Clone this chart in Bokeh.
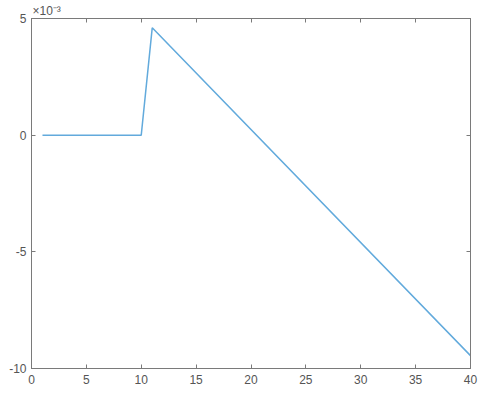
from bokeh.plotting import figure
from bokeh.models import LinearAxis, FixedTicker, Range1d
from bokeh.embed import file_html
from bokeh.resources import INLINE

x_vals = [1, 10, 11, 40]
y_vals = [0.0, 0.0, 4.6e-3, -9.45e-3]
x_ticks = [0, 5, 10, 15, 20, 25, 30, 35, 40]
y_ticks = [-0.01, -0.005, 0.0, 0.005]
y_tick_labels = {-0.01: "-10", -0.005: "-5", 0.0: "0", 0.005: "5"}

FONT = "Liberation Sans"
AX = "#7a7a7a"
TXT = "#555555"

p = figure(width=485, height=396, output_backend="svg", toolbar_location=None,
           x_range=Range1d(0, 40), y_range=Range1d(-0.01, 0.005),
           min_border_left=31, min_border_right=15, min_border_top=4, min_border_bottom=28)
p.xgrid.visible = False
p.ygrid.visible = False
p.outline_line_color = AX
p.outline_line_width = 1
p.background_fill_color = "white"
p.border_fill_color = "white"

p.line(x_vals, y_vals, line_color="#62aadc", line_width=1.5)

def style(ax):
    ax.axis_line_color = AX
    ax.major_tick_line_color = AX
    ax.major_tick_in = 4
    ax.major_tick_out = 0
    ax.minor_tick_line_color = None
    ax.major_label_text_font = FONT
    ax.major_label_text_color = TXT
    ax.major_label_text_font_size = "12px"
    ax.major_label_standoff = 5

p.xaxis.ticker = FixedTicker(ticks=x_ticks)
p.yaxis.ticker = FixedTicker(ticks=y_ticks)
p.yaxis.major_label_overrides = y_tick_labels
style(p.xaxis[0])
style(p.yaxis[0])
p.xaxis[0].major_label_standoff = 6

top = LinearAxis(ticker=FixedTicker(ticks=x_ticks))
style(top)
top.major_label_overrides = {t: "" for t in x_ticks}
top.major_label_standoff = 0
p.add_layout(top, "above")

right = LinearAxis(ticker=FixedTicker(ticks=y_ticks))
style(right)
right.major_label_overrides = {t: "" for t in y_ticks}
right.major_label_standoff = 0
p.add_layout(right, "right")

p.title.text = "×10⁻³"
p.title.text_font = FONT
p.title.text_font_size = "12px"
p.title.text_font_style = "normal"
p.title.text_color = TXT
p.title.align = "left"
p.title.offset = 1
p.title.standoff = 2

open("out.html", "w").write(file_html(p, INLINE))
